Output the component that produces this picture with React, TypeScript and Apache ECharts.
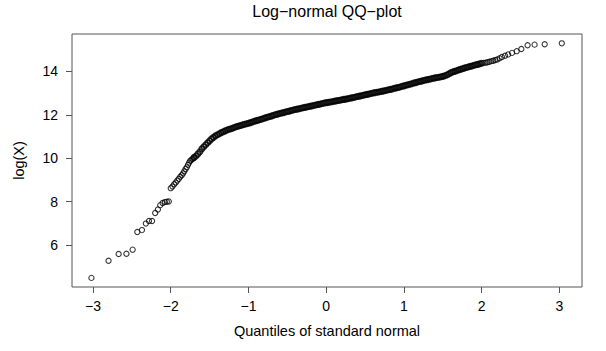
import React, { useEffect, useRef } from "react";
import * as echarts from "echarts";

// Axis ticks
const xTicks = [-3, -2, -1, 0, 1, 2, 3];
const yTicks = [6, 8, 10, 12, 14];

// Lower tail: [theoretical quantile, log(X)]
const lowerTail: [number, number][] = [
  [-3.02, 4.49], [-2.8, 5.28], [-2.67, 5.59], [-2.57, 5.6], [-2.49, 5.79],
  [-2.43, 6.6], [-2.37, 6.69], [-2.32, 6.99], [-2.28, 7.11], [-2.24, 7.11],
  [-2.2, 7.48], [-2.165, 7.64], [-2.135, 7.84], [-2.105, 7.94], [-2.075, 7.98],
  [-2.05, 8.0], [-2.025, 8.01],
  [-2.0, 8.62], [-1.978, 8.7], [-1.956, 8.8], [-1.935, 8.88], [-1.915, 8.97],
  [-1.896, 9.05], [-1.877, 9.15], [-1.859, 9.22], [-1.842, 9.3], [-1.825, 9.4],
  [-1.809, 9.5], [-1.793, 9.58], [-1.777, 9.7], [-1.762, 9.8], [-1.748, 9.88],
  [-1.733, 9.93], [-1.719, 9.97], [-1.706, 10.0],
];

// Dense body of the plot
const body: [number, number][] = [
  [-1.7, 10.04], [-1.675, 10.1], [-1.65, 10.2], [-1.625, 10.3], [-1.6, 10.43],
  [-1.575, 10.53], [-1.55, 10.62], [-1.525, 10.71], [-1.5, 10.8], [-1.475, 10.89],
  [-1.45, 10.96], [-1.425, 11.03], [-1.4, 11.08], [-1.375, 11.13], [-1.35, 11.18],
  [-1.325, 11.22], [-1.3, 11.26], [-1.275, 11.3], [-1.25, 11.33], [-1.225, 11.36],
  [-1.2, 11.39], [-1.175, 11.43], [-1.15, 11.46], [-1.125, 11.48], [-1.1, 11.51],
  [-1.075, 11.54], [-1.05, 11.56], [-1.025, 11.59], [-1.0, 11.61], [-0.975, 11.64],
  [-0.95, 11.67], [-0.925, 11.7], [-0.9, 11.73], [-0.875, 11.75], [-0.85, 11.78],
  [-0.825, 11.81], [-0.8, 11.84], [-0.775, 11.87], [-0.75, 11.9], [-0.725, 11.92],
  [-0.7, 11.95], [-0.675, 11.98], [-0.65, 12.01], [-0.625, 12.03], [-0.6, 12.06],
  [-0.575, 12.08], [-0.55, 12.1], [-0.525, 12.13], [-0.5, 12.15], [-0.475, 12.17],
  [-0.45, 12.2], [-0.425, 12.22], [-0.4, 12.24], [-0.375, 12.26], [-0.35, 12.28],
  [-0.325, 12.3], [-0.3, 12.32], [-0.275, 12.34], [-0.25, 12.36], [-0.225, 12.38],
  [-0.2, 12.4], [-0.175, 12.42], [-0.15, 12.44], [-0.125, 12.46], [-0.1, 12.48],
  [-0.075, 12.5], [-0.05, 12.52], [-0.025, 12.54], [0.0, 12.56], [0.025, 12.57],
  [0.05, 12.59], [0.075, 12.6], [0.1, 12.62], [0.125, 12.64], [0.15, 12.66],
  [0.175, 12.67], [0.2, 12.69], [0.225, 12.71], [0.25, 12.72], [0.275, 12.74],
  [0.3, 12.76], [0.325, 12.78], [0.35, 12.8], [0.375, 12.82], [0.4, 12.84],
  [0.425, 12.86], [0.45, 12.88], [0.475, 12.9], [0.5, 12.92], [0.525, 12.94],
  [0.55, 12.96], [0.575, 12.98], [0.6, 13.0], [0.625, 13.02], [0.65, 13.04],
  [0.675, 13.05], [0.7, 13.07], [0.725, 13.09], [0.75, 13.11], [0.775, 13.13],
  [0.8, 13.15], [0.825, 13.17], [0.85, 13.19], [0.875, 13.22], [0.9, 13.24],
  [0.925, 13.26], [0.95, 13.28], [0.975, 13.31], [1.0, 13.33], [1.025, 13.36],
  [1.05, 13.38], [1.075, 13.41], [1.1, 13.43], [1.125, 13.46], [1.15, 13.48],
  [1.175, 13.51], [1.2, 13.53], [1.225, 13.55], [1.25, 13.58], [1.275, 13.6],
  [1.3, 13.62], [1.325, 13.64], [1.35, 13.66], [1.375, 13.68], [1.4, 13.7],
  [1.425, 13.72], [1.45, 13.73], [1.475, 13.75], [1.5, 13.77], [1.525, 13.8],
  [1.55, 13.83], [1.575, 13.88], [1.6, 13.93], [1.625, 13.97], [1.65, 14.0],
  [1.675, 14.03], [1.7, 14.06], [1.725, 14.09], [1.75, 14.12], [1.775, 14.15],
  [1.8, 14.18], [1.825, 14.2], [1.85, 14.23], [1.875, 14.25], [1.9, 14.28],
  [1.925, 14.3], [1.95, 14.32], [1.975, 14.35], [2.0, 14.37],
];

// Sparser upper part and tail
const upperTail: [number, number][] = [
  [2.025, 14.39], [2.05, 14.4], [2.075, 14.42], [2.1, 14.44], [2.125, 14.47],
  [2.15, 14.49], [2.175, 14.52], [2.2, 14.55],
  [2.23, 14.6], [2.26, 14.66], [2.3, 14.72], [2.34, 14.78], [2.39, 14.85],
  [2.45, 14.93], [2.51, 15.03], [2.59, 15.2], [2.68, 15.23], [2.81, 15.25],
  [3.03, 15.29],
];

const FONT = "'Liberation Sans', Arial, Helvetica, sans-serif";
const fmt = (v: number) => (v < 0 ? "\u2212" + Math.abs(v) : String(v));

export default function App() {
  const ref = useRef<HTMLDivElement>(null);
  useEffect(() => {
    if (!ref.current) return;
    const chart = echarts.init(ref.current, undefined, { renderer: "svg" });
    const circleStyle = (w: number) => ({
      color: "rgba(0,0,0,0)",
      borderColor: "#000",
      borderWidth: w,
    });
    chart.setOption({
      animation: false,
      backgroundColor: "#ffffff",
      textStyle: { fontFamily: FONT },
      grid: {
        left: 72,
        right: 24,
        top: 34,
        bottom: 64,
        show: true,
        borderColor: "#555555",
        borderWidth: 1,
        backgroundColor: "transparent",
      },
      graphic: [
        {
          type: "text",
          x: 327,
          y: 11,
          style: {
            text: "Log\u2212normal QQ\u2212plot",
            fontSize: 16,
            fontFamily: FONT,
            fill: "#000",
            textAlign: "center",
            textVerticalAlign: "middle",
          },
        },
      ],
      xAxis: {
        type: "value",
        min: -3.27,
        max: 3.29,
        name: "Quantiles of standard normal",
        nameLocation: "middle",
        nameGap: 36,
        nameTextStyle: { fontSize: 14.5, color: "#000", fontFamily: FONT },
        axisLine: { show: false, onZero: false },
        splitLine: { show: false },
        axisTick: {
          show: true,
          inside: false,
          length: 6,
          customValues: xTicks,
          lineStyle: { color: "#555555", width: 1 },
        },
        axisLabel: {
          customValues: xTicks,
          formatter: fmt,
          fontSize: 14,
          color: "#000",
          fontFamily: FONT,
          margin: 12,
        },
      },
      yAxis: {
        type: "value",
        position: "left",
        min: 4.07,
        max: 15.72,
        name: "log(X)",
        nameLocation: "middle",
        nameGap: 46,
        nameRotate: 90,
        nameTextStyle: { fontSize: 14.5, color: "#000", fontFamily: FONT },
        axisLine: { show: false, onZero: false },
        splitLine: { show: false },
        axisTick: {
          show: true,
          inside: false,
          length: 6,
          customValues: yTicks,
          lineStyle: { color: "#555555", width: 1 },
        },
        axisLabel: {
          customValues: yTicks,
          formatter: fmt,
          fontSize: 14,
          color: "#000",
          fontFamily: FONT,
          margin: 14,
        },
      },
      series: [
        {
          type: "scatter",
          data: lowerTail,
          symbol: "circle",
          symbolSize: 5.2,
          itemStyle: circleStyle(1.1),
          emphasis: { disabled: true },
        },
        {
          type: "scatter",
          data: body,
          symbol: "circle",
          symbolSize: 5.2,
          itemStyle: circleStyle(1.8),
          emphasis: { disabled: true },
        },
        {
          type: "scatter",
          data: upperTail,
          symbol: "circle",
          symbolSize: 5.2,
          itemStyle: circleStyle(1.1),
          emphasis: { disabled: true },
        },
      ],
    });
    return () => chart.dispose();
  }, []);
  return (
    <div
      ref={ref}
      style={{ position: "fixed", left: 0, top: 0, width: 606, height: 351 }}
    />
  );
}
